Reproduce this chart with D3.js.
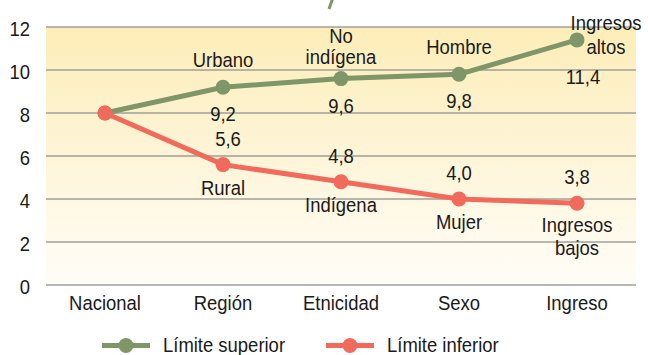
<!DOCTYPE html>
<html>
<head>
<meta charset="utf-8">
<script src="https://cdn.jsdelivr.net/npm/d3@7"></script>
<style>
  html, body { margin: 0; padding: 0; background: #ffffff; }
  svg { display: block; }
  text { font-family: "Liberation Sans", Arial, sans-serif; fill: #1a1a1a; }
</style>
</head>
<body>
<svg id="chart" width="648" height="355"></svg>
<script>
// Categories on the x axis
const categories = ["Nacional", "Región", "Etnicidad", "Sexo", "Ingreso"];
// Upper and lower bound series
const upperValues = [8, 9.2, 9.6, 9.8, 11.4];
const lowerValues = [8, 5.6, 4.8, 4.0, 3.8];
// Point annotations (group names), multi-line entries split by "\n"
const upperNames = ["", "Urbano", "No\nindígena", "Hombre", "Ingresos\naltos"];
const lowerNames = ["", "Rural", "Indígena", "Mujer", "Ingresos\nbajos"];
const yTicks = [0, 2, 4, 6, 8, 10, 12];
const seriesNames = ["Límite superior", "Límite inferior"];

const green = "#7e9668";
const red = "#f26a5c";
const FS = "20.5px";

const svg = d3.select("#chart");
const plotLeft = 46, plotRight = 636, plotTop = 27, plotBottom = 285;

const x = d3.scaleBand().domain(categories).range([plotLeft, plotRight]);
const cx = c => x(c) + x.bandwidth() / 2;
const y = d3.scaleLinear().domain([0, 12]).range([plotBottom, plotTop]);

const fmt = v => d3.format(".1f")(v).replace(".", ",");

// Background gradient
const defs = svg.append("defs");
const grad = defs.append("linearGradient").attr("id", "bg")
  .attr("x1", 0).attr("y1", 0).attr("x2", 0).attr("y2", 1);
grad.append("stop").attr("offset", "0%").attr("stop-color", "#fdedb8");
grad.append("stop").attr("offset", "100%").attr("stop-color", "#fffdf8");

svg.append("rect")
  .attr("x", plotLeft).attr("y", plotTop)
  .attr("width", plotRight - plotLeft).attr("height", plotBottom - plotTop)
  .attr("fill", "url(#bg)");

// Small green stroke at the top edge (tail of the heading above the frame)
svg.append("line")
  .attr("x1", 332.5).attr("y1", -1).attr("x2", 329).attr("y2", 9)
  .attr("stroke", green).attr("stroke-width", 3);

// Gridlines
svg.append("g").selectAll("line").data(yTicks).join("line")
  .attr("x1", plotLeft).attr("x2", plotRight)
  .attr("y1", d => y(d)).attr("y2", d => y(d))
  .attr("stroke", "#a19f97").attr("stroke-width", 1.6);

// Y axis labels
const yAxis = d3.axisLeft(y).tickValues(yTicks).tickSize(0).tickPadding(16);
const gy = svg.append("g").attr("transform", `translate(${plotLeft},2)`).call(yAxis);
gy.select(".domain").remove();
gy.attr("font-family", null).attr("font-size", null);
gy.selectAll("text").style("font-size", FS).attr("fill", "#1a1a1a");

// X axis labels
const xAxis = d3.axisBottom(x).tickSize(0).tickPadding(10);
const gx = svg.append("g").attr("transform", `translate(0,${plotBottom})`).call(xAxis);
gx.select(".domain").remove();
gx.attr("font-family", null).attr("font-size", null);
gx.selectAll("text").style("font-size", FS).attr("fill", "#1a1a1a");

// Lines
const line = d3.line().x((d, i) => cx(categories[i])).y(d => y(d));
svg.append("path").datum(upperValues).attr("d", line)
  .attr("fill", "none").attr("stroke", green).attr("stroke-width", 5);
svg.append("path").datum(lowerValues).attr("d", line)
  .attr("fill", "none").attr("stroke", red).attr("stroke-width", 5);

// Markers
svg.append("g").selectAll("circle").data(upperValues).join("circle")
  .attr("cx", (d, i) => cx(categories[i])).attr("cy", d => y(d))
  .attr("r", 7.5).attr("fill", green);
svg.append("g").selectAll("circle").data(lowerValues).join("circle")
  .attr("cx", (d, i) => cx(categories[i])).attr("cy", d => y(d))
  .attr("r", 7.5).attr("fill", red);

// Multi-line label; yLast is the baseline of the last line
function multiText(g, str, xPos, yLast, lineH) {
  const parts = str.split("\n");
  const t = g.append("text").attr("text-anchor", "middle").style("font-size", FS);
  parts.forEach((s, k) => {
    t.append("tspan").attr("x", xPos).attr("y", yLast - (parts.length - 1 - k) * lineH).text(s);
  });
}

const ann = svg.append("g");
// Upper series annotations: name above, value below
upperValues.forEach((v, i) => {
  if (i === 0) return;
  const px = cx(categories[i]), py = y(v);
  const name = upperNames[i];
  if (i === 4) {
    multiText(ann, name, px + 29, py + 14, 24);
    ann.append("text").attr("x", px + 6).attr("y", py + 44)
      .attr("text-anchor", "middle").style("font-size", FS).text(fmt(v));
  } else {
    multiText(ann, name, px, py - (i === 2 ? 15 : 20), 21);
    ann.append("text").attr("x", px).attr("y", py + 34)
      .attr("text-anchor", "middle").style("font-size", FS).text(fmt(v));
  }
});

// Lower series annotations: value above, name below
lowerValues.forEach((v, i) => {
  if (i === 0) return;
  const px = cx(categories[i]), py = y(v);
  const name = lowerNames[i];
  ann.append("text").attr("x", px + (i === 1 ? 5 : 0)).attr("y", py - 19)
    .attr("text-anchor", "middle").style("font-size", FS).text(fmt(v));
  multiText(ann, name, px, name.includes("\n") ? py + 52 : py + 30, 23);
});

// Legend
const legend = svg.append("g");
const legendItems = [
  { name: seriesNames[0], color: green, x0: 102 },
  { name: seriesNames[1], color: red, x0: 326 }
];
legendItems.forEach(d => {
  const ly = 345.5;
  legend.append("line").attr("x1", d.x0).attr("x2", d.x0 + 48)
    .attr("y1", ly).attr("y2", ly).attr("stroke", d.color).attr("stroke-width", 5);
  legend.append("circle").attr("cx", d.x0 + 24).attr("cy", ly).attr("r", 7.5).attr("fill", d.color);
  legend.append("text").attr("x", d.x0 + 61).attr("y", 352)
    .style("font-size", FS).text(d.name);
});

// Condense all labels horizontally (narrow sans look)
const squeeze = 0.9;
svg.selectAll("text").each(function () {
  const el = d3.select(this);
  const spans = el.selectAll("tspan");
  const targets = spans.empty() ? [this] : spans.nodes();
  targets.forEach(n => {
    const w = n.getComputedTextLength();
    d3.select(n).attr("textLength", w * squeeze).attr("lengthAdjust", "spacingAndGlyphs");
  });
});
</script>
</body>
</html>
